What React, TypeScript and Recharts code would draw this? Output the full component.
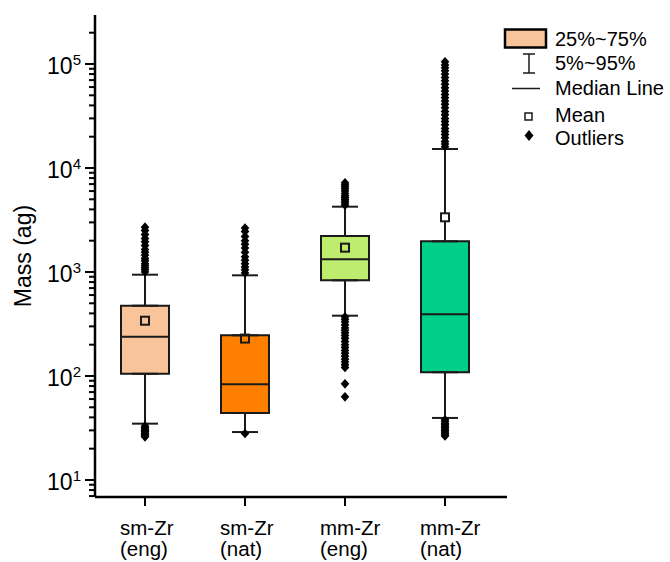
import React from "react";
import { ComposedChart, Bar, Cell, Scatter, ErrorBar, XAxis, YAxis } from "recharts";

// category labels (two lines each)
const labelTop = ["sm-Zr", "sm-Zr", "mm-Zr", "mm-Zr"];
const labelBottom = ["(eng)", "(nat)", "(eng)", "(nat)"];

// box statistics
const q1 = [105, 44.1, 832, 108.7];
const q3 = [474, 246, 2218, 1972];
const median = [239, 83.2, 1325, 392];
const mean = [340, 229, 1714, 3357];
const p5 = [34.8, 28.9, 380, 39.5];
const p95 = [942, 929, 4246, 15240];

const boxColors = ["#F9C499", "#FF8000", "#BEEC6E", "#00CF89"];

// outliers per category
const outSmEng = [
  1000, 1050, 1100, 1150, 1200, 1280, 1350, 1450, 1550, 1650, 1800, 1950, 2100, 2300, 2500, 2700,
  33, 32, 31, 30, 29.5, 29, 28, 27.5, 27, 26.5, 26,
];
const outSmNat = [980, 1050, 1120, 1200, 1300, 1400, 1550, 1700, 1850, 2000, 2200, 2450, 2650, 28];
const outMmEng = [
  4400, 4600, 4800, 5000, 5200, 5400, 5700, 6000, 6300, 6600, 6900, 7200,
  370, 350, 330, 310, 290, 275, 260, 245, 230, 215, 200, 188, 176, 165, 155, 145, 136, 128, 121,
  84, 63,
];
const outMmNat = [
  16000, 17000, 18000, 19500, 21000, 22500, 24000, 26000, 28000, 30000, 32500, 35000, 38000,
  41000, 44000, 47500, 51000, 55000, 59000, 64000, 69000, 74000, 80000, 86000, 92000, 98000,
  105000,
  38, 36.5, 35, 34, 33, 32, 31, 30, 29, 28, 27, 26.5,
];
const outliers = [outSmEng, outSmNat, outMmEng, outMmNat];

const yTicks = [
  7, 8, 9, 10, 20, 30, 40, 50, 60, 70, 80, 90, 100, 200, 300, 400, 500, 600, 700, 800, 900, 1000,
  2000, 3000, 4000, 5000, 6000, 7000, 8000, 9000, 10000, 20000, 30000, 40000, 50000, 60000, 70000,
  80000, 90000, 100000, 200000,
];
const majorTicks = [10, 100, 1000, 10000, 100000];

const boxData = q1.map((lo, i) => ({ x: i + 1, box: [lo, q3[i]] }));
const upperWhisker = q3.map((v, i) => ({ x: i + 1, y: v, err: [0, p95[i] - v] }));
const lowerWhisker = q1.map((v, i) => ({ x: i + 1, y: v, err: [v - p5[i], 0] }));
const medianData = median.map((v, i) => ({ x: i + 1, y: v }));
const meanData = mean.map((v, i) => ({ x: i + 1, y: v, idx: i }));
const outlierData = outliers.flatMap((list, i) => list.map((v) => ({ x: i + 1, y: v })));

const FONT = "'Liberation Sans', Arial, sans-serif";
const EDGE = "#1a1a1a";

const Nothing = () => <g />;

const MedianLine = (props: any) => (
  <line x1={props.cx - 24} x2={props.cx + 24} y1={props.cy} y2={props.cy} stroke={EDGE} strokeWidth={2} />
);

const MeanSquare = (props: any) => {
  const i = props.payload.idx;
  const inside = mean[i] >= q1[i] && mean[i] <= q3[i];
  return (
    <rect
      x={props.cx - 4}
      y={props.cy - 4}
      width={8}
      height={8}
      fill={inside ? "none" : "#fff"}
      stroke={EDGE}
      strokeWidth={2}
    />
  );
};

const Diamond = (props: any) => {
  const { cx, cy } = props;
  return (
    <polygon
      points={`${cx},${cy - 4.8} ${cx + 4.3},${cy} ${cx},${cy + 4.8} ${cx - 4.3},${cy}`}
      fill="#000"
    />
  );
};

const XTick = (props: any) => {
  const { x, y, payload } = props;
  const i = payload.value - 1;
  return (
    <g>
      <line x1={x} x2={x} y1={y - 10} y2={y - 1} stroke="#000" strokeWidth={2} />
      <text x={x - 25} y={y + 28} fontSize={20.5} fontFamily={FONT} fill="#000">
        {labelTop[i]}
      </text>
      <text x={x - 25} y={y + 49} fontSize={20.5} fontFamily={FONT} fill="#000">
        {labelBottom[i]}
      </text>
    </g>
  );
};

const YTick = (props: any) => {
  const { x, y, payload } = props;
  const v = payload.value;
  const major = majorTicks.includes(v);
  return (
    <g>
      <line x1={x - (major ? 10 : 6)} x2={x} y1={y} y2={y} stroke="#000" strokeWidth={2} />
      {major && (
        <text x={x - 14} y={y + 10} textAnchor="end" fontSize={23} fontFamily={FONT} fill="#000">
          10
          <tspan dy={-9} fontSize={15}>
            {Math.round(Math.log10(v))}
          </tspan>
        </text>
      )}
    </g>
  );
};

const YTitle = (props: any) => {
  const vb = props.viewBox || { y: 15, height: 482 };
  const cy = vb.y + vb.height / 2;
  return (
    <text
      x={31}
      y={cy}
      transform={`rotate(-90, 31, ${cy})`}
      textAnchor="middle"
      fontSize={23}
      fontFamily={FONT}
      fill="#000"
    >
      Mass (ag)
    </text>
  );
};

const LegendBox = () => (
  <svg width={670} height={562} style={{ position: "absolute", left: 0, top: 0, pointerEvents: "none" }}>
    <g fontFamily={FONT} fontSize={20} fill="#000">
      <rect x={505} y={29.5} width={41} height={18} fill={boxColors[0]} stroke="#000" strokeWidth={2.5} />
      <text x={555} y={46}>25%~75%</text>

      <line x1={529} x2={529} y1={54} y2={73} stroke={EDGE} strokeWidth={1.5} />
      <line x1={523} x2={535} y1={54} y2={54} stroke={EDGE} strokeWidth={1.5} />
      <line x1={523} x2={535} y1={73} y2={73} stroke={EDGE} strokeWidth={1.5} />
      <text x={555} y={70}>5%~95%</text>

      <line x1={512} x2={540} y1={88.5} y2={88.5} stroke={EDGE} strokeWidth={1.5} />
      <text x={555} y={95}>Median Line</text>

      <rect x={525} y={113} width={7} height={7} fill="#fff" stroke={EDGE} strokeWidth={1.5} />
      <text x={555} y={122}>Mean</text>

      <polygon points="529,130 533.5,135.5 529,141 524.5,135.5" fill="#000" />
      <text x={555} y={145}>Outliers</text>
    </g>
  </svg>
);

export default function App() {
  return (
    <div style={{ position: "absolute", left: 0, top: 0, width: 670, height: 562, background: "#fff" }}>
      <ComposedChart width={670} height={562} data={boxData} margin={{ top: 15, right: 163, bottom: 0, left: 0 }}>
        <XAxis
          type="number"
          dataKey="x"
          domain={[0.5, 4.62]}
          ticks={[1, 2, 3, 4]}
          interval={0}
          allowDataOverflow
          height={65}
          tickSize={8}
          tickLine={false}
          axisLine={{ stroke: "#000", strokeWidth: 2.5 }}
          tick={<XTick />}
        />
        <YAxis
          scale="log"
          domain={[6.86, 296000]}
          allowDataOverflow
          ticks={yTicks}
          interval={0}
          width={95}
          tickSize={0}
          tickMargin={0}
          tickLine={false}
          axisLine={{ stroke: "#000", strokeWidth: 2.5 }}
          tick={<YTick />}
          label={<YTitle />}
        />
        <Bar dataKey="box" barSize={48} stroke={EDGE} strokeWidth={2} isAnimationActive={false}>
          {boxData.map((d, i) => (
            <Cell key={i} fill={boxColors[i]} />
          ))}
        </Bar>
        <Scatter data={upperWhisker} dataKey="y" shape={<Nothing />} isAnimationActive={false}>
          <ErrorBar dataKey="err" direction="y" width={13} stroke={EDGE} strokeWidth={2} />
        </Scatter>
        <Scatter data={lowerWhisker} dataKey="y" shape={<Nothing />} isAnimationActive={false}>
          <ErrorBar dataKey="err" direction="y" width={13} stroke={EDGE} strokeWidth={2} />
        </Scatter>
        <Scatter data={outlierData} dataKey="y" shape={<Diamond />} isAnimationActive={false} />
        <Scatter data={medianData} dataKey="y" shape={<MedianLine />} isAnimationActive={false} />
        <Scatter data={meanData} dataKey="y" shape={<MeanSquare />} isAnimationActive={false} />
      </ComposedChart>
      <LegendBox />
    </div>
  );
}
